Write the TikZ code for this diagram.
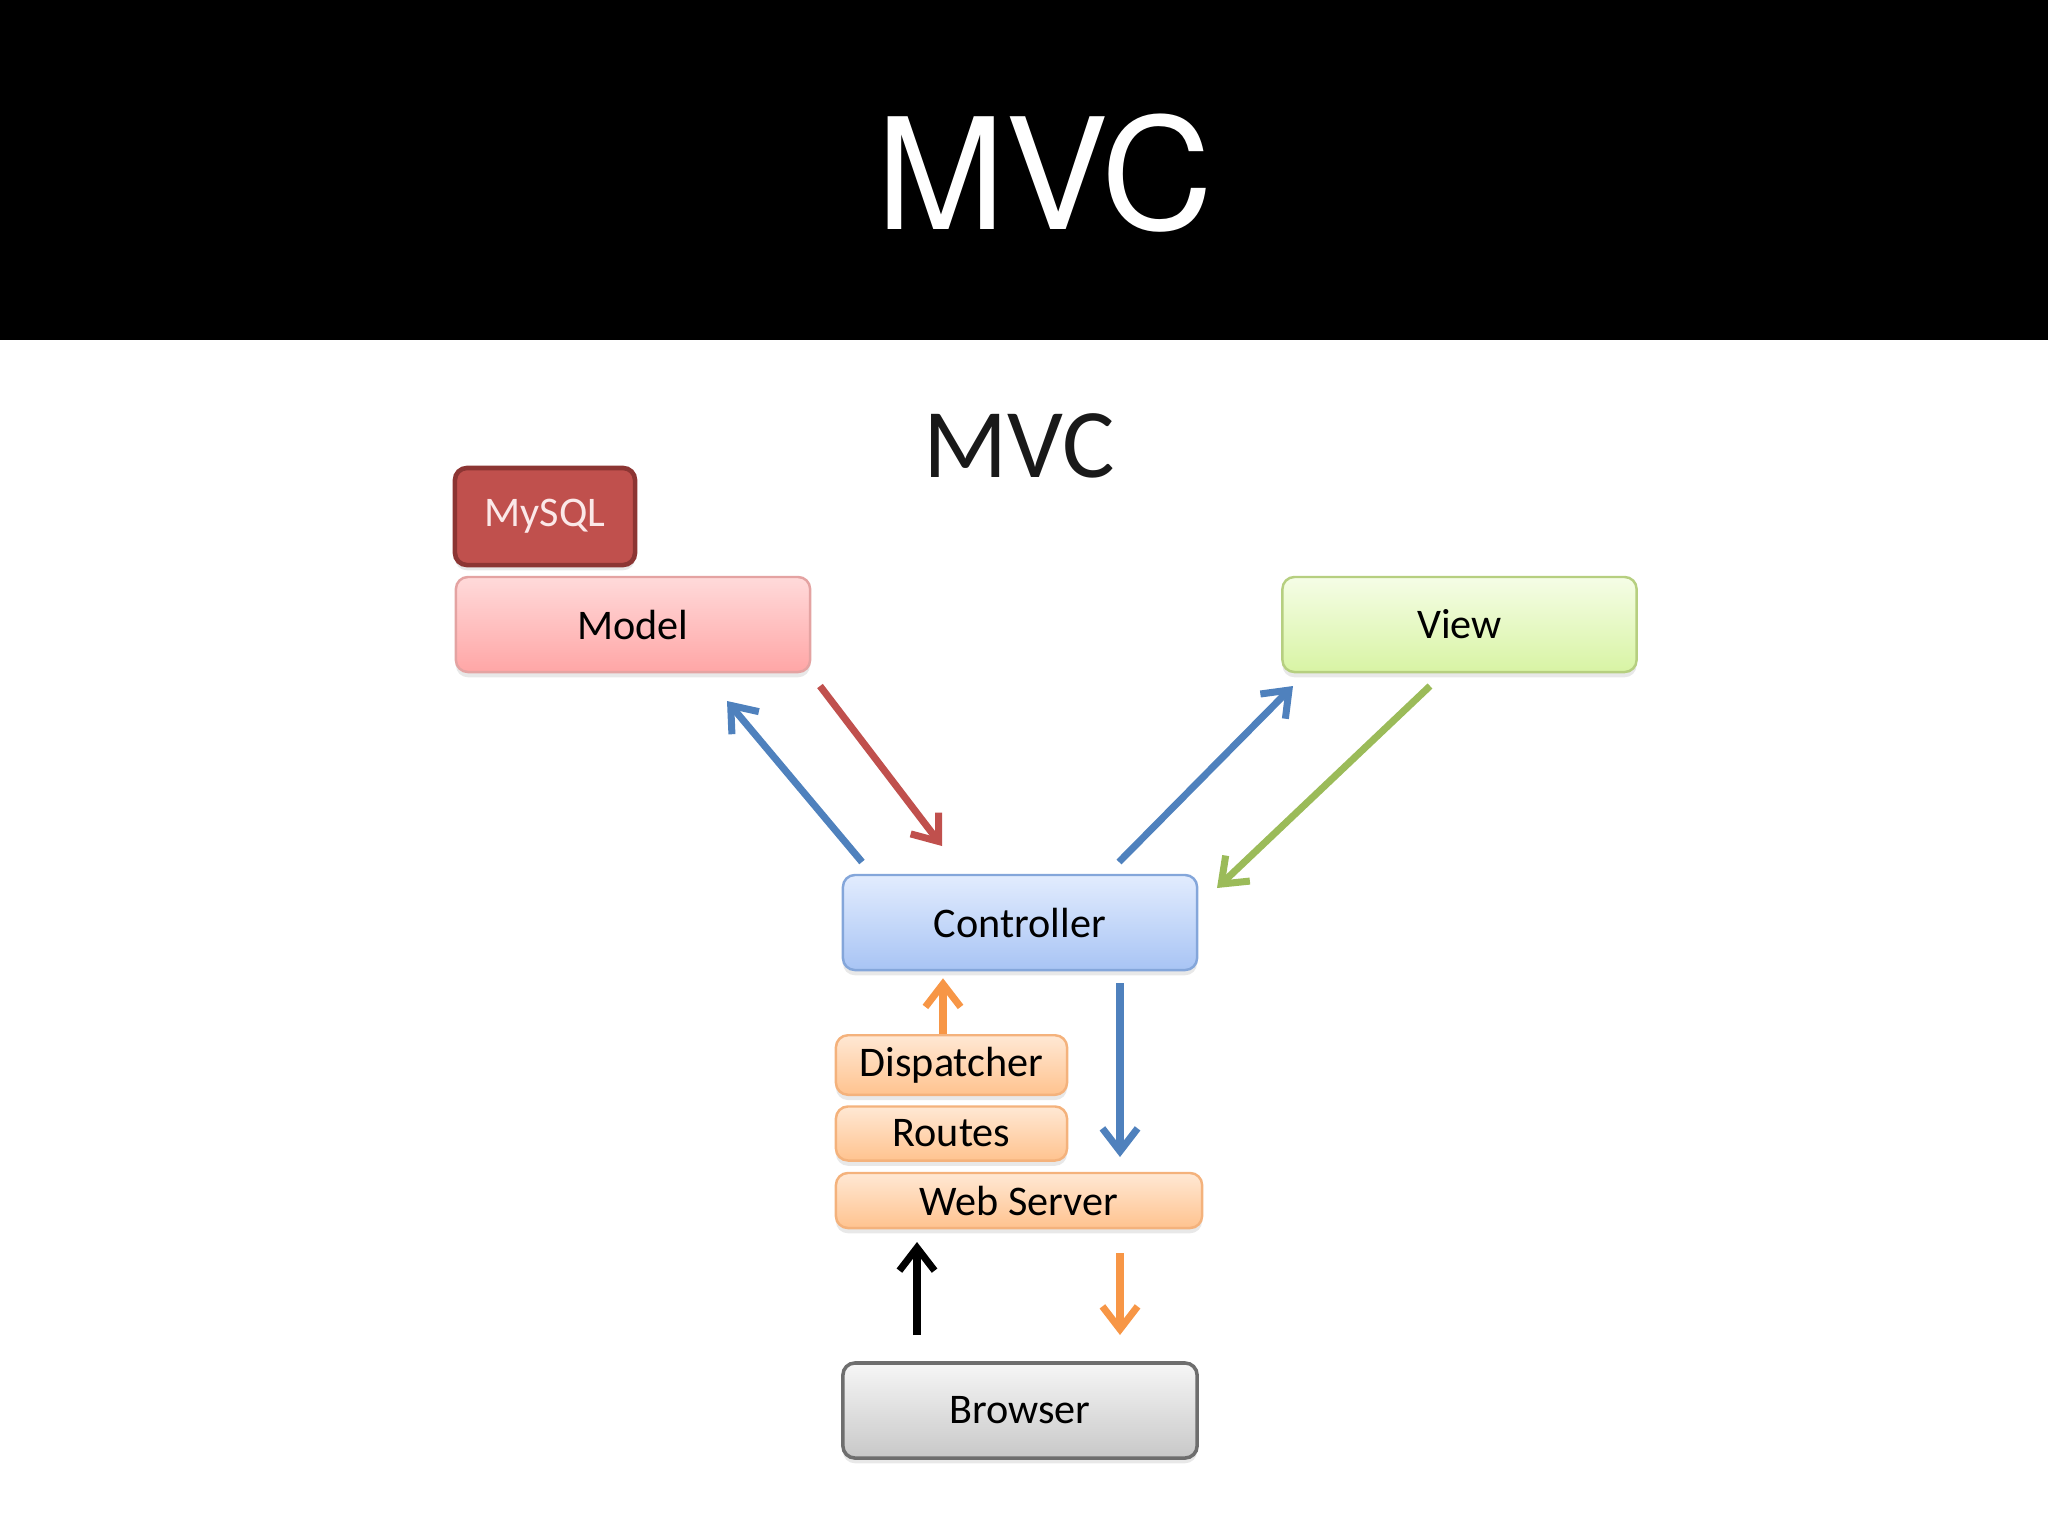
\documentclass[tikz,border=0pt]{standalone}
\usepackage{fontspec}
\setmainfont{Carlito}
\newfontfamily\headfont{TeX Gyre Heros}
\usetikzlibrary{arrows.meta,shadows}
\definecolor{arblue}{HTML}{4F81BD}
\definecolor{arred}{HTML}{C0504D}
\definecolor{argreen}{HTML}{9BBB59}
\definecolor{arorange}{HTML}{F79646}
\definecolor{sqlfill}{HTML}{C0504D}
\definecolor{sqlline}{HTML}{8C3533}
\definecolor{sqltext}{HTML}{FBE8E8}
\definecolor{modelline}{HTML}{E4A3A2}
\definecolor{modeltop}{HTML}{FFDADA}
\definecolor{modelbot}{HTML}{FFA6A6}
\definecolor{viewline}{HTML}{B6CF80}
\definecolor{viewtop}{HTML}{F5FDE6}
\definecolor{viewbot}{HTML}{D8F4A4}
\definecolor{ctrlline}{HTML}{84A6DA}
\definecolor{ctrltop}{HTML}{E2ECFE}
\definecolor{ctrlbot}{HTML}{A8C4F4}
\definecolor{orline}{HTML}{F4B27C}
\definecolor{ortop}{HTML}{FFE8D4}
\definecolor{orbot}{HTML}{FFC38F}
\definecolor{greyline}{HTML}{6E6E6E}
\definecolor{greytop}{HTML}{F6F6F6}
\definecolor{greybot}{HTML}{C8C8C8}

\begin{document}
\begin{tikzpicture}[x=0.01cm,y=-0.01cm]
  \tikzstyle{box}=[draw, rounded corners=0.12cm, minimum width=3.54cm, minimum height=0.95cm,
    line width=0.7pt, text=black, font=\fontsize{12}{14}\selectfont,
    drop shadow={shadow xshift=0pt,shadow yshift=-1.5pt,opacity=.18}]
  \tikzstyle{modelbox}=[box, draw=modelline, top color=modeltop, bottom color=modelbot]
  \tikzstyle{viewbox}=[box, draw=viewline, top color=viewtop, bottom color=viewbot]
  \tikzstyle{ctrlbox}=[box, draw=ctrlline, top color=ctrltop, bottom color=ctrlbot]
  \tikzstyle{orangebox}=[box, draw=orline, top color=ortop, bottom color=orbot, minimum height=0.54cm]
  \tikzstyle{greybox}=[box, draw=greyline, line width=1pt, top color=greytop, bottom color=greybot]
  \tikzstyle{flow}=[line width=2pt, -{Straight Barb[length=6.5pt,width=10pt]}]
  \useasboundingbox (0,0) rectangle (2048,1536);
  \fill[black] (0,0) rectangle (2048,340);
  \node[anchor=base, text=white, font=\headfont\fontsize{44}{50}\selectfont] (head) at (1045,229) {MVC};
  \node[anchor=base, text=black!90, font=\fontsize{28}{32}\selectfont] (title) at (1019,477) {MVC};

  \node[box, fill=sqlfill, draw=sqlline, line width=1.3pt, minimum width=1.8cm, minimum height=0.97cm,
    text=sqltext] (sql) at (545,516.5) {MySQL};
  \node[modelbox] (model) at (633,624.5) {Model};
  \node[viewbox] (view) at (1459.5,624.5) {View};
  \node[ctrlbox] (ctrl) at (1020,922.5) {Controller};
  \foreach \name/\txt/\y in {disp/Dispatcher/1065,route/Routes/1133.5}
    \node[orangebox, minimum width=2.31cm] (\name) at (951.5,\y) {\txt};
  \node[orangebox, minimum width=3.66cm, minimum height=0.55cm] (web) at (1019,1200.5) {Web Server};
  \node[greybox] (browser) at (1020,1410.5) {Browser};

  \coordinate (ma) at (862,862);  \coordinate (mb) at (727,701);
  \coordinate (ra) at (820,686);  \coordinate (rb) at (942,846);
  \coordinate (va) at (1119,862); \coordinate (vb) at (1293,686);
  \coordinate (ga) at (1430,686); \coordinate (gb) at (1217,888);
  \coordinate (da) at (1120,983); \coordinate (db) at (1120,1157);
  \coordinate (ka) at (917,1335); \coordinate (kb) at (917,1242);
  \coordinate (oa) at (1120,1253); \coordinate (ob) at (1120,1335);
  \draw[flow, arblue] (ma) -- (mb);
  \draw[flow, arred] (ra) -- (rb);
  \draw[flow, arblue] (va) -- (vb);
  \draw[flow, argreen] (ga) -- (gb);
  \draw[flow, arorange, shorten >=2pt] (disp.north -| 943,0) -- (ctrl.south -| 943,0);
  \draw[flow, arblue] (da) -- (db);
  \draw[flow, black] (ka) -- (kb);
  \draw[flow, arorange] (oa) -- (ob);
\end{tikzpicture}
\end{document}
